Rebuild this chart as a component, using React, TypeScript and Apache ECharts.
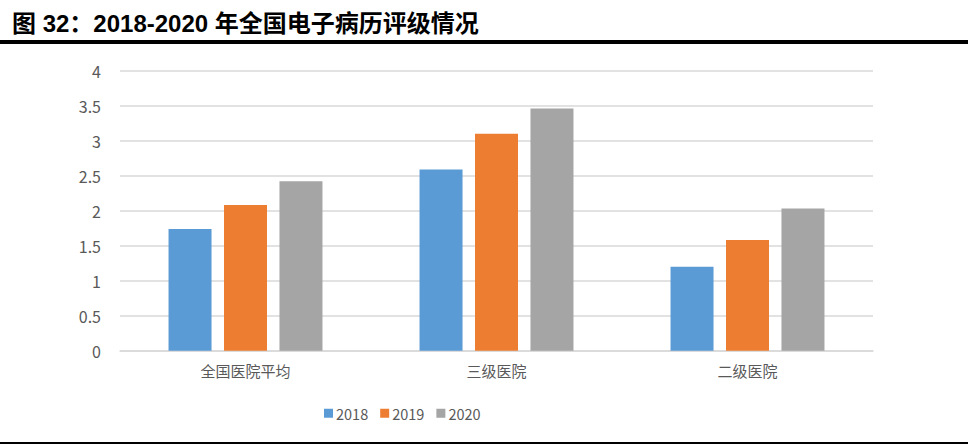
import React, { useEffect, useRef } from "react";
import * as echarts from "echarts";

const categories = ["全国医院平均", "三级医院", "二级医院"];
const seriesNames = ["2018", "2019", "2020"];
const values2018 = [1.74, 2.59, 1.2];
const values2019 = [2.08, 3.1, 1.58];
const values2020 = [2.42, 3.46, 2.03];
const colors = ["#5b9bd5", "#ed7d31", "#a5a5a5"];
const titleText = "图 32：2018-2020 年全国电子病历评级情况";

export default function App() {
  const ref = useRef<HTMLDivElement>(null);
  useEffect(() => {
    if (!ref.current) return;
    const chart = echarts.init(ref.current, undefined, { renderer: "svg" });
    const font = '"Noto Sans CJK SC", "Microsoft YaHei", sans-serif';
    const data = [values2018, values2019, values2020];
    chart.setOption({
      animation: false,
      backgroundColor: "#ffffff",
      title: {
        text: titleText,
        left: 12,
        top: 9,
        padding: 0,
        textStyle: {
          fontFamily: '"Liberation Sans", Arial, "Noto Sans CJK SC", sans-serif',
          fontSize: 24,
          fontWeight: "bold",
          color: "#000000",
          lineHeight: 28,
        },
      },
      graphic: [
        {
          type: "rect",
          shape: { x: 0, y: 40, width: 968, height: 4 },
          style: { fill: "#000000" },
        },
        {
          type: "rect",
          shape: { x: 0, y: 442, width: 968, height: 2 },
          style: { fill: "#000000" },
        },
      ],
      legend: {
        data: seriesNames,
        top: 401,
        left: 319,
        itemWidth: 9,
        itemHeight: 9,
        itemGap: 12,
        icon: "rect",
        textStyle: { fontFamily: font, fontSize: 14.5, color: "#595959", padding: [0, 0, 0, -2] },
      },
      grid: { left: 120, right: 95, top: 70.7, bottom: 96.3 },
      xAxis: {
        type: "category",
        data: categories,
        axisLine: { lineStyle: { color: "#d9d9d9", width: 1.5 } },
        axisTick: { show: false },
        axisLabel: { fontFamily: font, fontSize: 15, color: "#595959", margin: 12 },
      },
      yAxis: {
        type: "value",
        min: 0,
        max: 4,
        interval: 0.5,
        axisLine: { show: false },
        axisTick: { show: false },
        splitLine: { lineStyle: { color: "#d9d9d9", width: 1.5 } },
        axisLabel: { fontFamily: font, fontSize: 16, color: "#595959", margin: 19 },
      },
      series: seriesNames.map((name, i) => ({
        name,
        type: "bar",
        data: data[i],
        barWidth: 43,
        barGap: "29%",
        itemStyle: { color: colors[i] },
      })),
    });
    return () => chart.dispose();
  }, []);
  return (
    <div
      ref={ref}
      style={{ position: "absolute", left: 0, top: 0, width: 968, height: 447 }}
    />
  );
}
